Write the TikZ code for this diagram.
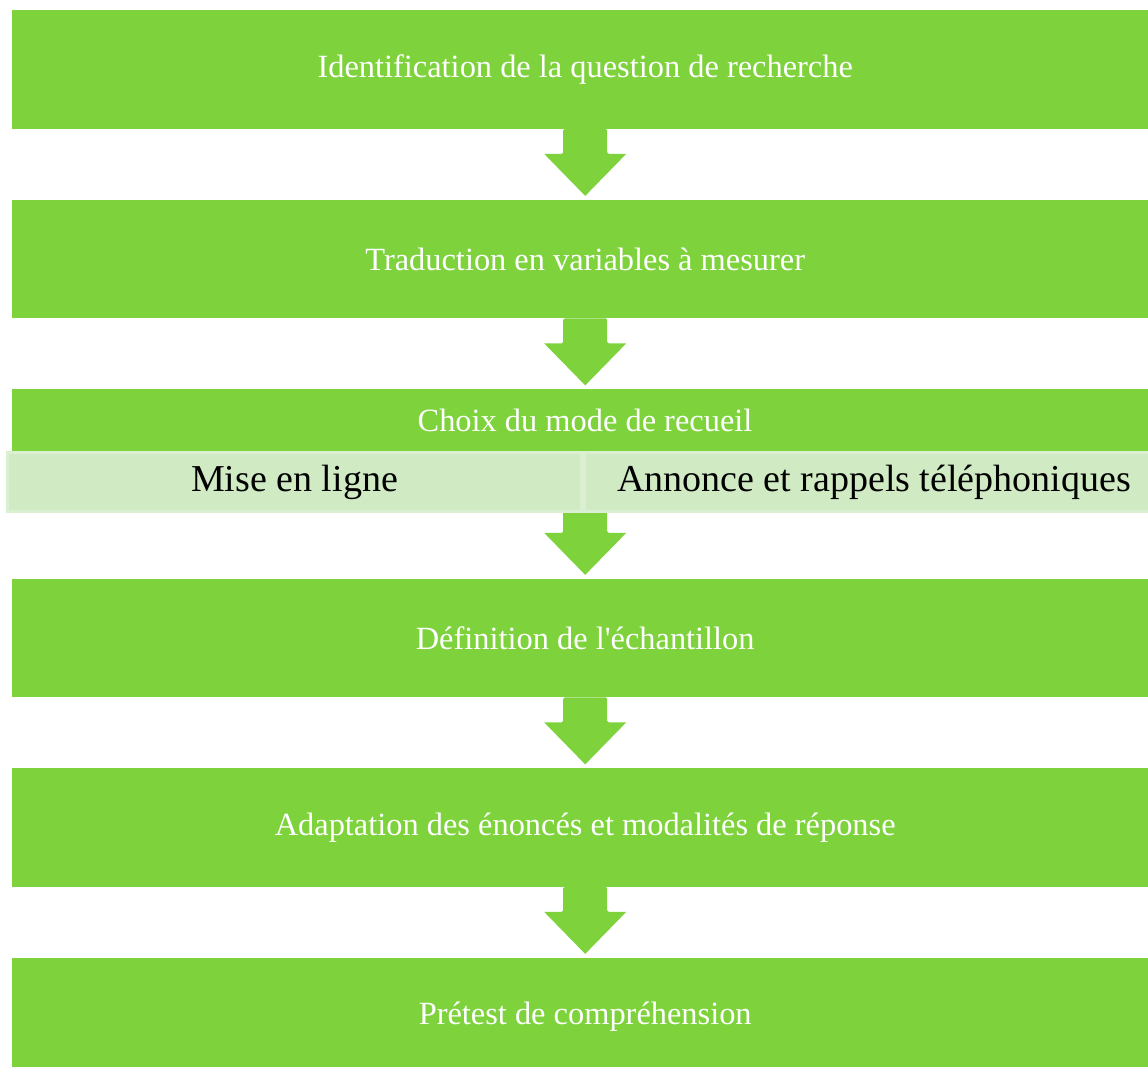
\documentclass[tikz,border=0pt]{standalone}
\usepackage{fontspec}
\setmainfont{Liberation Serif}
\usetikzlibrary{calc}
\definecolor{stepgreen}{HTML}{7ED33D}
\definecolor{subfill}{HTML}{D0EBC3}
\definecolor{subline}{HTML}{DBEFD1}
\begin{document}
\begin{tikzpicture}[x=1pt,y=-1pt,
  stepbox/.style={fill=stepgreen,draw=none,minimum width=1146pt,minimum height=118.5pt,
    anchor=north west,inner sep=0pt,text=white,font=\fontsize{32.4}{36}\selectfont},
  steplabel/.style={text=white,inner sep=0pt,font=\fontsize{32.4}{36}\selectfont},
  subbox/.style={fill=subfill,draw=subline,line width=3pt,minimum height=59pt,
    inner sep=0pt,text=black,font=\fontsize{38}{42}\selectfont},
  flowarrow/.style={fill=stepgreen,draw=none,rounded corners=1.5pt}]
\useasboundingbox (0,0) rectangle (1148,1067);
\clip (0,0) rectangle (1148,1067);
% main steps
\node[stepbox] (s1) at (12,10) {Identification de la question de recherche};
\node[stepbox] (s2) at (12,199.5) {Traduction en variables à mesurer};
\node[stepbox] (s3) at (12,389) {};
\node[stepbox] (s4) at (12,578.5) {Définition de l\textquotesingle échantillon};
\node[stepbox] (s5) at (12,768) {Adaptation des énoncés et modalités de réponse};
\node[stepbox] (s6) at (12,957.5) {Prétest de compréhension};
\node[steplabel] (l3) at (585,420) {Choix du mode de recueil};
% down arrows between steps
\foreach \a in {s1,s2,s3,s4,s5}{
  \fill[flowarrow] ($(\a.south)+(-22,0)$) -- ($(\a.south)+(-22,25)$)
    [sharp corners] -- ($(\a.south)+(-41,25)$) -- ($(\a.south)+(0,67)$)
    -- ($(\a.south)+(41,25)$) [rounded corners=1.5pt] -- ($(\a.south)+(22,25)$)
    -- ($(\a.south)+(22,0)$) -- cycle;
}
% collection modes
\node[subbox,minimum width=574pt] (m1) at (294.5,482) {Mise en ligne};
\node[subbox,minimum width=579pt] (m2) at (874,482) {Annonce et rappels téléphoniques};
\end{tikzpicture}
\end{document}
